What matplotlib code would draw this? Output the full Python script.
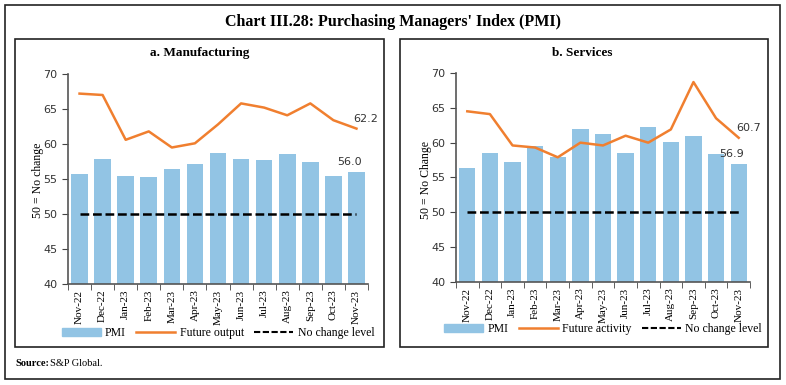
import matplotlib.pyplot as plt
from matplotlib.patches import Rectangle
from matplotlib.lines import Line2D
import numpy as np

months = ['Nov-22', 'Dec-22', 'Jan-23', 'Feb-23', 'Mar-23', 'Apr-23', 'May-23',
          'Jun-23', 'Jul-23', 'Aug-23', 'Sep-23', 'Oct-23', 'Nov-23']

mfg_pmi = [55.7, 57.8, 55.4, 55.3, 56.4, 57.2, 58.7, 57.8, 57.7, 58.6, 57.5, 55.5, 56.0]
mfg_future = [67.2, 67.0, 60.6, 61.8, 59.5, 60.1, 62.8, 65.8, 65.2, 64.1, 65.8, 63.4, 62.2]

svc_pmi = [56.4, 58.5, 57.2, 59.5, 57.9, 62.0, 61.2, 58.5, 62.3, 60.1, 61.0, 58.4, 56.9]
svc_future = [64.5, 64.1, 59.6, 59.3, 57.9, 60.0, 59.6, 61.0, 60.0, 61.9, 68.7, 63.5, 60.7]

no_change = 50

blue = '#92C4E4'
orange = '#F07F2F'
serif = 'Liberation Serif'

fig = plt.figure(figsize=(7.86, 3.85), dpi=100)
W, H = 786, 385


def px_rect(x0, y0, x1, y1, lw=1.2):
    # rectangle in pixel coords, y measured from top
    fig.patches.append(Rectangle((x0 / W, 1 - y1 / H), (x1 - x0) / W, (y1 - y0) / H,
                                 transform=fig.transFigure, fill=False,
                                 edgecolor='#222222', linewidth=lw))


px_rect(5, 5, 780, 379)
px_rect(15, 39, 384, 347)
px_rect(400, 39, 768, 347)

fig.text(393 / W, 1 - 22 / H, "Chart III.28: Purchasing Managers' Index (PMI)",
         ha='center', va='center', fontsize=11.5, family=serif, fontweight='bold')
fig.text(15 / W, 1 - 364 / H, 'Source:', ha='left', va='center', fontsize=7.5,
         family=serif, fontweight='bold')
fig.text(50 / W, 1 - 364 / H, 'S&P Global.', ha='left', va='center', fontsize=7.5,
         family=serif)


def panel(rect, pmi, future, title, ylabel, line_name, title_x, ylabel_x, leg_y):
    ax = fig.add_axes(rect)
    x = np.arange(len(months))
    ax.bar(x, pmi, width=0.72, color=blue, zorder=1, label='PMI')
    ax.plot(x, future, color=orange, linewidth=1.8, zorder=3, label=line_name)
    ax.plot([x[0], x[-1]], [no_change, no_change], color='black', linestyle=(0, (3.5, 1.5)),
            linewidth=1.8, zorder=2, label='No change level')
    ax.set_ylim(40, 70)
    ax.set_xlim(-0.5, len(months) - 0.5)
    ax.set_yticks([40, 45, 50, 55, 60, 65, 70])
    ax.set_xticks(x)
    ax.set_xticklabels(months, rotation=90, family=serif, fontsize=8)
    ax.set_xticks(np.arange(-0.5, len(months), 1), minor=True)
    ax.tick_params(axis='x', which='major', length=0, pad=4)
    ax.tick_params(axis='x', which='minor', length=4, color='#444444')
    ax.tick_params(axis='y', length=4, color='#444444', labelsize=8, labelcolor='#333333')
    for s in ['top', 'right']:
        ax.spines[s].set_visible(False)
    for s in ['left', 'bottom']:
        ax.spines[s].set_color('#555555')
        ax.spines[s].set_linewidth(1.2)
    ax.annotate(f'{future[-1]:.1f}', (x[-1], future[-1]), xytext=(-2, 5),
                textcoords='offset points', fontsize=8, color='#333333', ha='left')
    ax.annotate(f'{pmi[-1]:.1f}', (x[-1], pmi[-1]), xytext=(-5, 5),
                textcoords='offset points', fontsize=8, color='#333333', ha='center')
    fig.text(title_x / W, 1 - 53 / H, title, ha='center', va='center', fontsize=9.5,
             family=serif, fontweight='bold')
    fig.text(ylabel_x / W, 1 - 180 / H, ylabel, ha='center', va='center', fontsize=8.5,
             family=serif, rotation=90)
    handles = [Rectangle((0, 0), 1, 1, color=blue),
               Line2D([], [], color=orange, linewidth=1.8),
               Line2D([], [], color='black', linestyle=(0, (3, 1.2)), linewidth=1.5)]
    ax.legend(handles, ['PMI', line_name, 'No change level'], loc='center',
              bbox_to_anchor=(0.5, leg_y), ncol=3, frameon=False,
              prop={'family': serif, 'size': 8.5}, handlelength=3.3, handleheight=0.6,
              columnspacing=0.9, handletextpad=0.35, borderpad=0)
    return ax


panel([68 / W, 1 - 284 / H, 300 / W, 210 / H], mfg_pmi, mfg_future,
      'a. Manufacturing', '50 = No change', 'Future output', 200, 38, -0.235)
panel([456 / W, 1 - 282 / H, 294 / W, 209 / H], svc_pmi, svc_future,
      'b. Services', '50 = No Change', 'Future activity', 582, 426, -0.225)

fig.savefig('out.png', dpi=100)
